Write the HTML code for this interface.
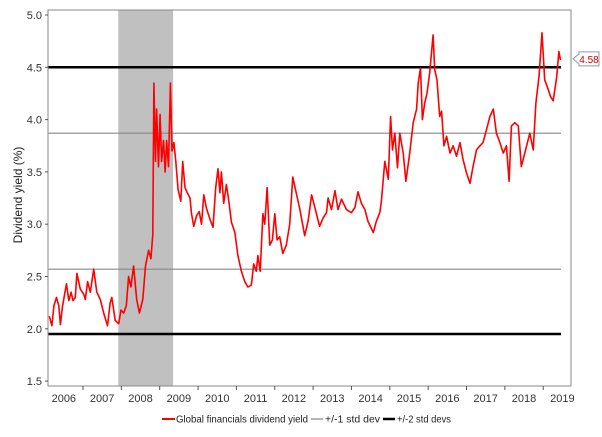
<!DOCTYPE html>
<html><head><meta charset="utf-8"><style>
body{margin:0;background:#fff;font-family:"Liberation Sans",sans-serif}
svg text{font-family:"Liberation Sans",sans-serif}
</style></head><body>
<svg id="c" width="602" height="432"></svg>
<script>
const dates=[2006.12,2006.19,2006.24,2006.31,2006.37,2006.41,2006.46,2006.52,2006.57,2006.63,2006.69,2006.74,2006.80,2006.84,2006.93,2007.02,2007.06,2007.12,2007.19,2007.28,2007.36,2007.45,2007.54,2007.64,2007.71,2007.75,2007.84,2007.93,2007.99,2008.06,2008.13,2008.19,2008.25,2008.32,2008.40,2008.47,2008.56,2008.63,2008.71,2008.77,2008.82,2008.85,2008.89,2008.92,2008.97,2009.01,2009.05,2009.10,2009.14,2009.18,2009.23,2009.28,2009.32,2009.37,2009.42,2009.48,2009.55,2009.60,2009.66,2009.72,2009.79,2009.83,2009.89,2009.96,2010.03,2010.09,2010.15,2010.22,2010.31,2010.39,2010.46,2010.52,2010.57,2010.61,2010.67,2010.74,2010.81,2010.87,2010.96,2011.04,2011.13,2011.22,2011.30,2011.39,2011.45,2011.52,2011.56,2011.62,2011.69,2011.74,2011.80,2011.87,2011.94,2012.00,2012.06,2012.13,2012.21,2012.30,2012.39,2012.47,2012.56,2012.65,2012.78,2012.87,2012.96,2013.04,2013.17,2013.26,2013.35,2013.39,2013.48,2013.57,2013.65,2013.74,2013.87,2014.00,2014.09,2014.17,2014.26,2014.35,2014.43,2014.57,2014.65,2014.74,2014.78,2014.87,2014.96,2015.02,2015.07,2015.13,2015.20,2015.26,2015.35,2015.42,2015.52,2015.61,2015.70,2015.74,2015.80,2015.85,2015.91,2015.97,2016.04,2016.13,2016.17,2016.23,2016.30,2016.35,2016.41,2016.48,2016.57,2016.65,2016.74,2016.83,2016.91,2017.00,2017.09,2017.17,2017.26,2017.35,2017.43,2017.52,2017.61,2017.70,2017.78,2017.87,2017.96,2018.04,2018.11,2018.17,2018.26,2018.35,2018.43,2018.52,2018.65,2018.74,2018.81,2018.89,2018.97,2019.04,2019.13,2019.19,2019.26,2019.35,2019.41,2019.45];
const yields=[2.12,2.03,2.22,2.30,2.22,2.04,2.20,2.33,2.43,2.27,2.35,2.27,2.30,2.53,2.38,2.33,2.28,2.45,2.35,2.57,2.35,2.28,2.15,2.03,2.25,2.30,2.08,2.05,2.18,2.15,2.22,2.50,2.40,2.60,2.28,2.15,2.28,2.60,2.75,2.67,2.90,4.35,3.60,4.10,3.55,4.05,3.60,3.80,3.50,3.80,3.55,4.35,3.70,3.78,3.60,3.33,3.22,3.60,3.35,3.30,3.25,3.10,2.98,3.08,3.12,3.00,3.28,3.15,3.05,2.97,3.35,3.53,3.30,3.50,3.20,3.38,3.20,3.02,2.92,2.70,2.55,2.45,2.40,2.42,2.62,2.55,2.70,2.55,3.10,3.00,3.35,2.80,2.85,3.10,2.85,2.88,2.72,2.80,3.00,3.45,3.30,3.15,2.89,3.03,3.28,3.17,2.98,3.06,3.11,3.25,3.14,3.32,3.14,3.24,3.14,3.11,3.16,3.31,3.20,3.14,3.03,2.92,3.03,3.11,3.22,3.60,3.43,4.03,3.71,3.87,3.54,3.87,3.68,3.41,3.68,3.97,4.10,4.35,4.49,4.00,4.16,4.25,4.45,4.81,4.48,4.38,4.03,4.08,3.75,3.84,3.68,3.75,3.65,3.78,3.62,3.49,3.39,3.55,3.71,3.75,3.78,3.90,4.03,4.10,3.87,3.78,3.68,3.75,3.41,3.94,3.97,3.94,3.55,3.68,3.87,3.71,4.16,4.41,4.83,4.38,4.29,4.22,4.18,4.40,4.65,4.57];
const yTicks=[1.5,2.0,2.5,3.0,3.5,4.0,4.5,5.0];
const yearLabels=[2006,2007,2008,2009,2010,2011,2012,2013,2014,2015,2016,2017,2018,2019];
const bands1=[3.87,2.57];
const bands2=[4.5,1.95];
const recession=[2007.92,2009.35];
const lastValue="4.58";
const L=48,R=571,T=10,B=386;
const X=y=>83+(y-2007)*38.35;
const Y=v=>15+(5-v)*104.6;
const s=document.getElementById('c');
const NS='http://www.w3.org/2000/svg';
function mk(t,a,p){const e=document.createElementNS(NS,t);for(const k in a)e.setAttribute(k,a[k]);(p||s).appendChild(e);return e;}
let e;
e=mk('rect',{x:X(recession[0]),y:T,width:X(recession[1])-X(recession[0]),height:B-T,fill:'#c0c0c0'});


bands1.forEach(v=>{e=mk('line',{x1:L,x2:561,y1:Y(v),y2:Y(v),stroke:'#888','stroke-width':1.2});

});
bands2.forEach(v=>{e=mk('line',{x1:L,x2:561,y1:Y(v),y2:Y(v),stroke:'#000','stroke-width':2.5});

});
e=mk('path',{d:dates.map((d,i)=>(i?'L':'M')+X(d).toFixed(1)+','+Y(yields[i]).toFixed(1)).join(''),fill:'none',stroke:'#f00','stroke-width':1.6,'stroke-linejoin':'round'});


e=mk('rect',{x:L,y:T,width:R-L,height:B-T,fill:'none',stroke:'#888','stroke-width':1});


yTicks.forEach(v=>{mk('line',{x1:L-3,x2:L,y1:Y(v),y2:Y(v),stroke:'#555'});
e=mk('text',{x:L-6,y:Y(v)+4,'text-anchor':'end','font-size':11,fill:'#333'});e.textContent=v.toFixed(1);

});
yearLabels.forEach(yr=>{if(yr>2006)mk('line',{x1:X(yr),x2:X(yr),y1:B,y2:B+4,stroke:'#555'});
e=mk('text',{x:X(yr+0.5),y:B+16,'text-anchor':'middle','font-size':11,fill:'#333'});e.textContent=yr;

});
e=mk('text',{x:22,y:195,'text-anchor':'middle','font-size':12,fill:'#222',transform:'rotate(-90 22 195)'});e.textContent='Dividend yield (%)';


const lv=parseFloat(lastValue),ly=Y(lv);
e=mk('path',{d:`M573,${ly} L579,${ly-5} L579,${ly-7} L599,${ly-7} L599,${ly+7} L579,${ly+7} L579,${ly+5} Z`,fill:'#fff',stroke:'#999'});


e=mk('text',{x:589,y:ly+4,'text-anchor':'middle','font-size':10,fill:'#c00'});e.textContent=lastValue;


const g=mk('g',{});


mk('line',{x1:162,x2:175,y1:419,y2:419,stroke:'#f00','stroke-width':2},g);
e=mk('text',{x:176,y:422.5,'font-size':10,fill:'#222',textLength:132,lengthAdjust:'spacingAndGlyphs'},g);e.textContent='Global financials dividend yield';
mk('line',{x1:311,x2:323,y1:419,y2:419,stroke:'#888','stroke-width':1.2},g);
e=mk('text',{x:325,y:422.5,'font-size':10,fill:'#222',textLength:55,lengthAdjust:'spacingAndGlyphs'},g);e.textContent='+/-1 std dev';
mk('line',{x1:383,x2:395,y1:419,y2:419,stroke:'#000','stroke-width':2.5},g);
e=mk('text',{x:397,y:422.5,'font-size':10,fill:'#222',textLength:54,lengthAdjust:'spacingAndGlyphs'},g);e.textContent='+/-2 std devs';
</script>
</body></html>
